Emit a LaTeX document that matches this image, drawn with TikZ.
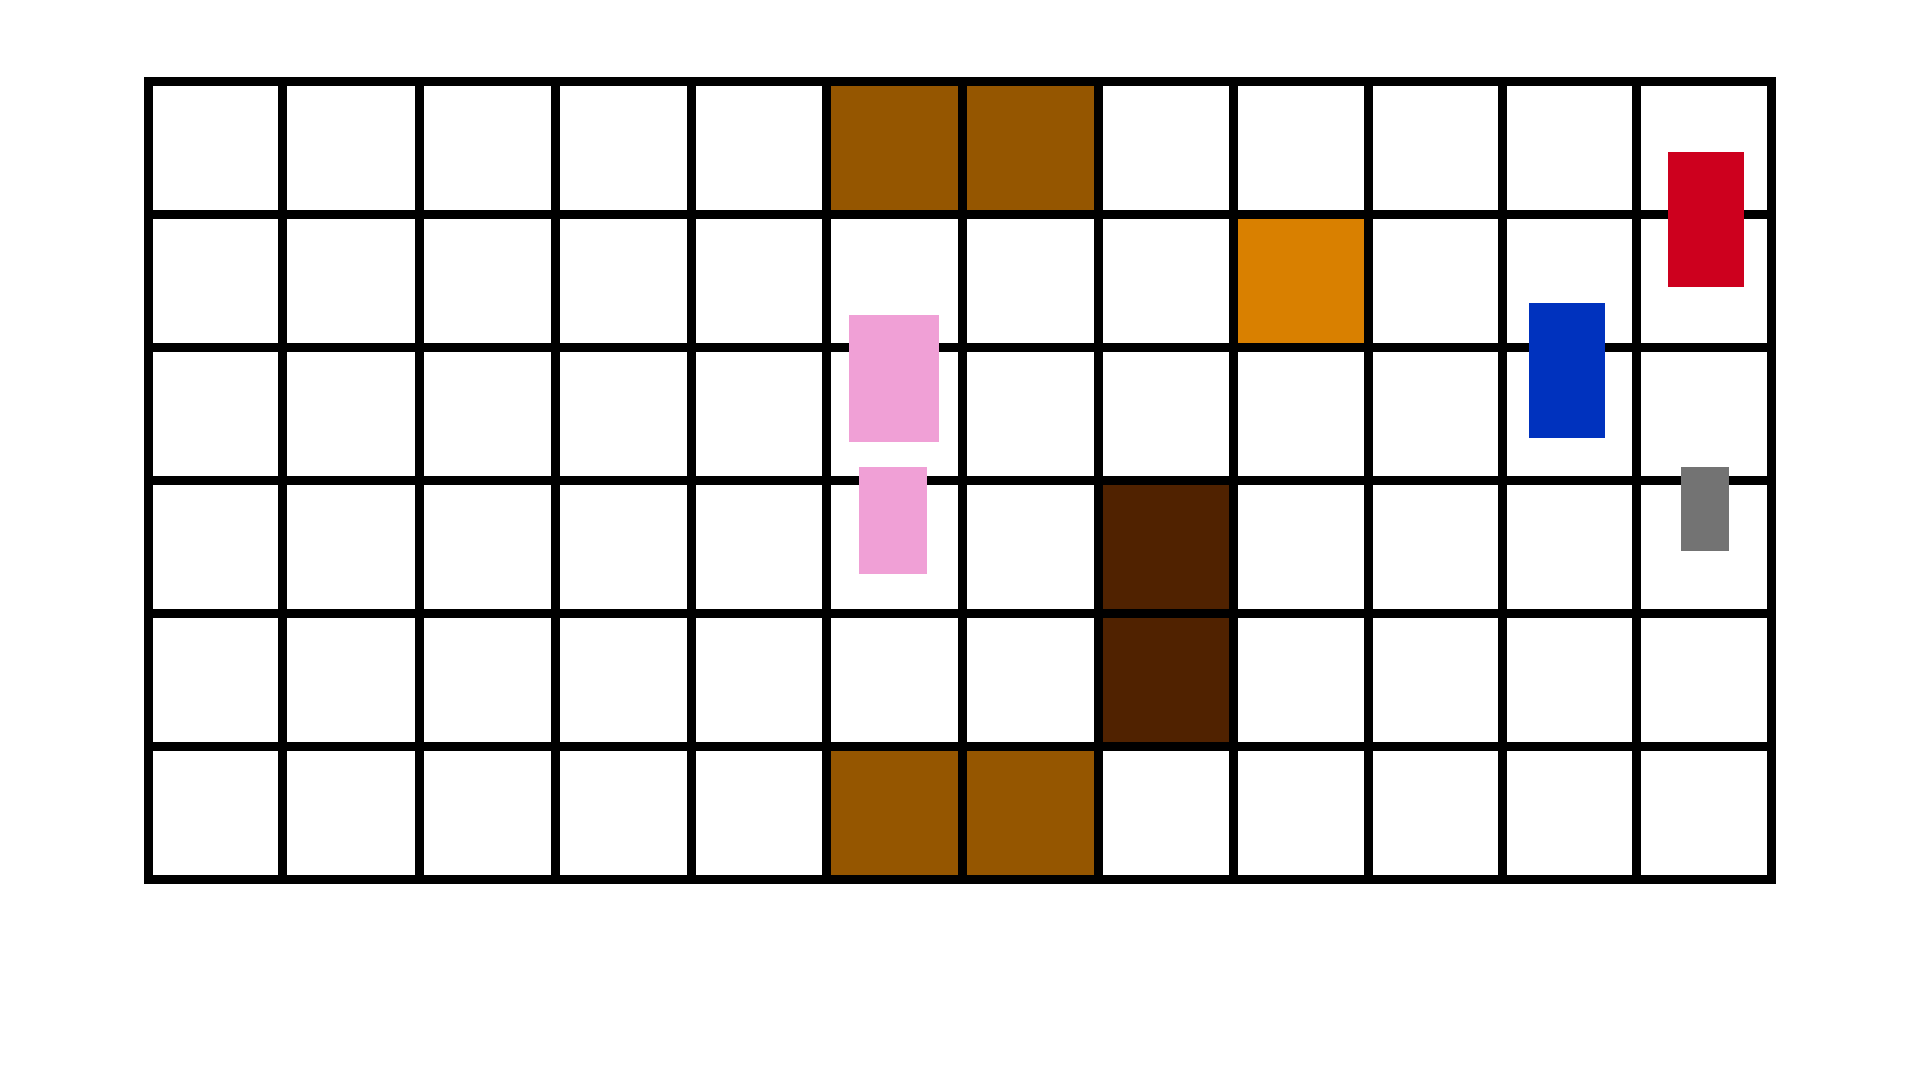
\documentclass[tikz,border=0pt]{standalone}
\definecolor{brownA}{RGB}{149,86,0}
\definecolor{brownD}{RGB}{80,34,0}
\definecolor{orangeA}{RGB}{217,128,0}
\definecolor{redA}{RGB}{205,0,30}
\definecolor{pinkA}{RGB}{240,160,214}
\definecolor{blueA}{RGB}{0,50,190}
\definecolor{grayA}{RGB}{115,115,115}
\begin{document}
\begin{tikzpicture}[x=0.5pt,y=-0.5pt,
  gridline/.style={line width=4.5pt,black,line cap=rect},
  block/.style={draw=none}]
\useasboundingbox (0,0) rectangle (1920,1080);
% filled cells
\fill[brownA] (826.5,81.5) rectangle (1098,214.5);
\fill[brownA] (826.5,746.5) rectangle (1098,879.5);
\fill[brownD] (1098,480.5) rectangle (1233,746.5);
\fill[orangeA] (1233,214.5) rectangle (1368.5,347.5);
% grid
\foreach \x in {148.5,282.5,419,555,691,826.5,962.5,1098,1233,1368.5,1502,1636.5,1771.5}
  \draw[gridline] (\x,81.5) -- (\x,879.5);
\foreach \y in {81.5,214.5,347.5,480.5,613.5,746.5,879.5}
  \draw[gridline] (148.5,\y) -- (1771.5,\y);
% blocks on top
\fill[redA] (1668,152) rectangle (1744,287);
\fill[pinkA] (849,315) rectangle (939,442);
\fill[pinkA] (859,467) rectangle (927,574);
\fill[blueA] (1529,303) rectangle (1605,438);
\fill[grayA] (1681,467) rectangle (1729,551);
\end{tikzpicture}
\end{document}
